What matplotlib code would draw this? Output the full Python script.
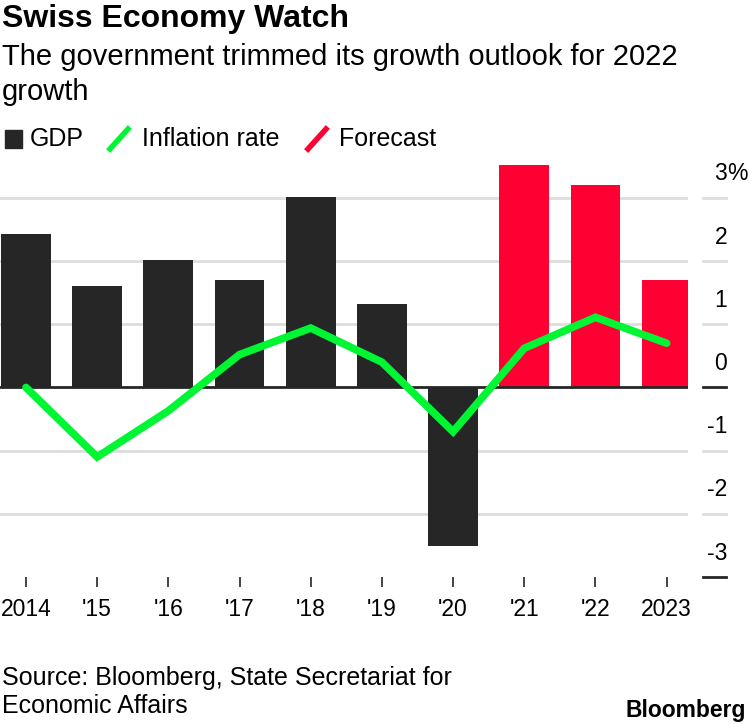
import numpy as np
from matplotlib import pyplot as plt
from matplotlib.lines import Line2D
from matplotlib.patches import Rectangle
import matplotlib.transforms as mtransforms

years = ["2014", "'15", "'16", "'17", "'18", "'19", "'20", "'21", "'22", "2023"]
gdp = [2.43, 1.60, 2.02, 1.70, 3.02, 1.32, -2.51, 3.52, 3.21, 1.70]
forecast = [False, False, False, False, False, False, False, True, True, True]
inflation = [0.0, -1.1, -0.37, 0.52, 0.94, 0.40, -0.70, 0.62, 1.11, 0.70]
yticks = [3, 2, 1, 0, -1, -2, -3]

BLACK = "#262626"
RED = "#ff0033"
GREEN = "#00f533"
GRID = "#dddddd"

plt.rcParams['font.family'] = ['Liberation Sans', 'DejaVu Sans']

fig = plt.figure(figsize=(7.5, 7.24), dpi=100)
W, H = 750, 724
ax = fig.add_axes([0 / W, (H - 577) / H, 688 / W, (577 - 160) / H])

x = np.arange(len(years))
colors = [RED if f else BLACK for f in forecast]
ax.bar(x, gdp, width=0.70, color=colors, zorder=2)
ax.plot(x, inflation, color=GREEN, lw=5.5, zorder=4, solid_capstyle='round', solid_joinstyle='miter')

ax.set_xlim(-0.365, 9.3)
ax.set_ylim(-3, 3.6)

# grid lines + right dashes + labels
trans = mtransforms.blended_transform_factory(ax.transAxes, ax.transData)
for v in yticks:
    if v == 0:
        ax.axhline(0, color=BLACK, lw=2, zorder=3)
    elif v != -3:
        ax.axhline(v, color=GRID, lw=2, zorder=1)
    dash_col = BLACK if v in (0, -3) else GRID
    ax.plot([703 / 688, 726 / 688], [v, v], color=dash_col, lw=2, transform=trans, clip_on=False)
    ax.annotate(str(v), xy=(727 / 688, v), xycoords=trans, xytext=(0, 24), textcoords='offset pixels',
                ha='right', va='center', fontsize=16.5, color='black', annotation_clip=False)
    if v == 3:
        ax.annotate('%', xy=(727 / 688, v), xycoords=trans, xytext=(0, 24), textcoords='offset pixels',
                    ha='left', va='center', fontsize=16.5, color='black', annotation_clip=False)

for s in ax.spines.values():
    s.set_visible(False)
ax.set_yticks([])
ax.set_xticks(x)
ax.set_xticklabels(years, fontsize=16.5)
ax.tick_params(axis='x', length=7, width=1.2, color=BLACK, pad=8)

# title and subtitle
fig.text(2 / W, 1 - 19 / H, "Swiss Economy Watch", fontsize=23, fontweight='bold', va='center', ha='left')
fig.text(2 / W, 1 - 57 / H, "The government trimmed its growth outlook for 2022", fontsize=21, va='center', ha='left')
fig.text(2 / W, 1 - 92 / H, "growth", fontsize=21, va='center', ha='left')

# legend
ly = 1 - 139 / H
fig.add_artist(Rectangle((5 / W, 1 - 148 / H), 17 / W, 18 / H, color=BLACK, transform=fig.transFigure))
fig.text(30 / W, ly, "GDP", fontsize=18, va='center', ha='left')
fig.add_artist(Line2D([110 / W, 128 / W], [1 - 149 / H, 1 - 129 / H], color=GREEN, lw=4, transform=fig.transFigure))
fig.text(142 / W, ly, "Inflation rate", fontsize=18, va='center', ha='left')
fig.add_artist(Line2D([308 / W, 326 / W], [1 - 149 / H, 1 - 129 / H], color=RED, lw=4, transform=fig.transFigure))
fig.text(339 / W, ly, "Forecast", fontsize=18, va='center', ha='left')

# footer
fig.text(2 / W, 1 - 678 / H, "Source: Bloomberg, State Secretariat for", fontsize=18, va='center', ha='left')
fig.text(2 / W, 1 - 706 / H, "Economic Affairs", fontsize=18, va='center', ha='left')
fig.text(746 / W, 1 - 710 / H, "Bloomberg", fontsize=16.5, fontweight='bold', va='center', ha='right')

fig.savefig("out.png", dpi=100)
